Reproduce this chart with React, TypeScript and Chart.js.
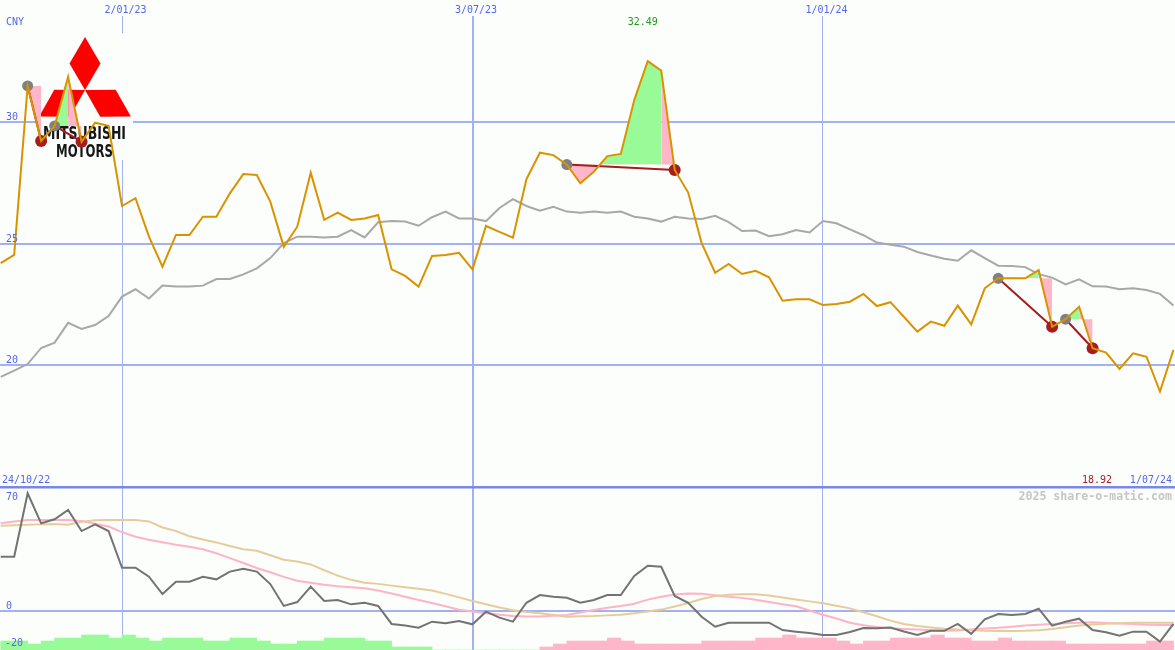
import React, { useEffect, useRef } from 'react';
import { Chart, registerables } from 'chart.js';

Chart.register(...registerables);

// ---------- data ----------
const currency = 'CNY';
const rangeStart = '24/10/22';
const rangeEnd = '1/07/24';
const watermark = '2025 share-o-matic.com';
const dateTickIdx = [9, 35, 61];
const dateTickLabels = ['2/01/23', '3/07/23', '1/01/24'];
const priceTicks = [30, 25, 20];
const oscTicks = [70, 0, -20];

// weekly close (CNY)
const price = [
  24.19, 24.53, 31.47, 29.21, 29.83, 31.85, 29.18, 29.96, 29.83, 26.54,
  26.86, 25.28, 24.05, 25.35, 25.35, 26.10, 26.10, 27.06, 27.85, 27.81,
  26.72, 24.86, 25.69, 27.91, 25.97, 26.27, 25.97, 26.03, 26.17, 23.94,
  23.67, 23.23, 24.49, 24.53, 24.62, 23.94, 25.72, 25.48, 25.24, 27.64,
  28.73, 28.63, 28.24, 27.47, 27.95, 28.59, 28.68, 30.89, 32.49, 32.10,
  28.02, 27.09, 25.01, 23.80, 24.16, 23.75, 23.88, 23.61, 22.65, 22.71,
  22.71, 22.47, 22.52, 22.61, 22.93, 22.43, 22.59, 21.99, 21.38, 21.79,
  21.62, 22.45, 21.68, 23.16, 23.57, 23.57, 23.57, 23.91, 21.58, 21.89,
  22.40, 20.70, 20.52, 19.85, 20.49, 20.35, 18.92, 20.63,
];

// moving average
const movingAvg = [
  19.52, 19.78, 20.05, 20.71, 20.93, 21.74, 21.49, 21.65, 22.02, 22.82,
  23.12, 22.74, 23.27, 23.23, 23.23, 23.27, 23.54, 23.54, 23.73, 23.98,
  24.40, 25.02, 25.28, 25.28, 25.25, 25.28, 25.55, 25.25, 25.87, 25.92,
  25.90, 25.73, 26.08, 26.31, 26.03, 26.03, 25.92, 26.46, 26.82, 26.54,
  26.35, 26.51, 26.31, 26.26, 26.31, 26.26, 26.31, 26.10, 26.03, 25.90,
  26.10, 26.03, 26.01, 26.14, 25.88, 25.51, 25.53, 25.30, 25.38, 25.55,
  25.45, 25.92, 25.83, 25.58, 25.34, 25.04, 24.95, 24.87, 24.65, 24.51,
  24.37, 24.29, 24.72, 24.40, 24.09, 24.08, 24.03, 23.74, 23.60, 23.32,
  23.53, 23.24, 23.23, 23.12, 23.16, 23.09, 22.93, 22.45,
];

// trades: entry, turning point, exit (week indices)
const tradeEntry = [2, 4, 42, 74, 79];
const tradeTurn = [2, 5, 49, 77, 80];
const tradeExit = [3, 6, 50, 78, 81];

// lower panel oscillator
const oscMain = [
  31.0, 31.0, 67.3, 50.1, 52.4, 57.7, 45.7, 49.5, 45.7, 24.7,
  24.7, 19.6, 9.7, 16.7, 16.7, 19.6, 18.1, 22.5, 24.2, 22.5,
  15.4, 2.9, 5.1, 13.9, 5.7, 6.3, 3.8, 4.7, 2.9, -7.4,
  -8.3, -9.5, -6.1, -7.0, -5.7, -7.6, -0.4, -3.8, -6.1, 4.7,
  9.1, 8.2, 7.6, 4.7, 6.3, 9.1, 9.1, 20.0, 25.9, 25.3,
  8.6, 4.7, -3.3, -9.0, -6.7, -6.7, -6.7, -6.7, -10.9, -11.8,
  -12.6, -13.7, -13.7, -12.0, -9.7, -9.9, -9.5, -11.7, -13.7, -11.3,
  -11.3, -7.4, -13.1, -4.7, -1.7, -2.3, -1.7, 1.3, -8.4, -6.1,
  -4.4, -10.9, -12.2, -14.1, -11.8, -11.8, -17.5, -7.4,
];
const oscFast = [
  50.2, 51.1, 52.0, 52.0, 52.0, 52.0, 51.4, 49.9, 48.3, 45.1,
  42.4, 40.7, 39.3, 37.8, 36.7, 35.3, 33.0, 30.2, 27.4, 24.6,
  22.1, 19.5, 17.3, 16.1, 15.0, 14.1, 13.6, 13.0, 11.7, 10.0,
  8.1, 6.3, 4.6, 2.7, 0.7, -0.3, -1.3, -2.2, -2.9, -3.1,
  -3.1, -2.7, -2.3, -0.9, 0.6, 1.8, 2.9, 4.2, 6.5, 8.1,
  9.4, 10.0, 9.8, 9.0, 8.1, 7.5, 6.4, 5.1, 3.8, 2.7,
  0.3, -2.1, -4.3, -6.7, -8.1, -9.1, -9.9, -10.3, -10.6, -11.0,
  -11.3, -11.1, -10.5, -10.0, -9.6, -9.0, -8.3, -7.8, -7.4, -7.0,
  -6.7, -6.5, -6.8, -7.1, -7.4, -7.8, -8.0, -8.0,
];
const oscSlow = [
  48.7, 49.0, 49.3, 49.5, 49.7, 49.3, 51.0, 51.9, 52.0, 52.0,
  52.0, 51.2, 47.7, 45.7, 42.7, 40.9, 39.2, 37.1, 35.3, 34.4,
  31.9, 29.3, 28.3, 26.6, 23.3, 20.2, 17.8, 16.2, 15.5, 14.5,
  13.6, 12.7, 11.7, 9.8, 7.8, 5.7, 3.9, 2.0, 0.4, -0.6,
  -1.3, -2.3, -3.3, -3.0, -2.9, -2.5, -2.1, -1.3, -0.3, 0.8,
  2.6, 4.6, 6.9, 8.5, 9.3, 9.6, 9.6, 8.9, 7.7, 6.6,
  5.5, 4.4, 3.0, 1.5, -0.7, -3.0, -5.5, -7.4, -8.6, -9.4,
  -10.1, -10.6, -11.0, -11.3, -11.4, -11.4, -11.3, -11.0, -10.3, -9.3,
  -8.3, -7.7, -7.3, -7.0, -6.7, -6.7, -6.7, -6.7,
];
// histogram between weeks (positive = green, negative = pink)
const histogram = [
  3, 3, 2, 3, 4, 4, 5, 5, 4, 5, 4, 3, 4, 4, 4, 3, 3, 4, 4, 3,
  2, 2, 3, 3, 4, 4, 4, 3, 3, 1, 1, 1,
  0, 0, 0, 0, 0, 0, 0, 0,
  -1, -2, -3, -3, -3, -4, -3, -2, -2, -2, -2, -2, -3, -3, -3, -3, -4, -4, -5, -4,
  -4, -4, -3, -2, -3, -3, -4, -4, -4, -5, -4, -4, -3, -3, -4, -3, -3, -3, -3, -2,
  -2, -2, -2, -2, -2, -3, -3,
];

// ---------- styles ----------
const BG = '#fbfefb';
const GRID = '#a3b1f2';
const SEP = '#7888e6';
const TEXT_BLUE = '#5566ee';
const ORANGE = '#da9300';
const MA_GRAY = '#a8a8a8';
const PINK = '#ffb6c8';
const GREEN = '#98fb98';
const DARK_RED = '#a51d1d';
const MONO = '"DejaVu Sans Mono", monospace';

const W = 1175;
const H = 650;
const PX_PER_WEEK = 13.48;
const X_MIN = -0.7 / PX_PER_WEEK;
const X_MAX = X_MIN + W / PX_PER_WEEK;
const TOP_MAX = 35;
const TOP_PX = 24.35;
const TOP_MIN = TOP_MAX - H / TOP_PX;
const OSC_PX = 1.75;
const OSC_ZERO_Y = 611;
const OSC_MAX = OSC_ZERO_Y / OSC_PX;
const OSC_MIN = -(H - OSC_ZERO_Y) / OSC_PX;

const pts = (arr: number[]) => arr.map((y, i) => ({ x: i, y }));
const seg = (a: number, b: number) => {
  const out: { x: number; y: number }[] = [];
  for (let i = a; i <= b; i++) out.push({ x: i, y: price[i] });
  return out;
};

const overlayPlugin = {
  id: 'overlay',
  beforeDatasetsDraw(chart: any) {
    const ctx = chart.ctx;
    ctx.save();
    ctx.fillStyle = BG;
    ctx.fillRect(0, 0, W, 16);
    // logo
    ctx.fillRect(38, 33, 95, 127);
    ctx.fillStyle = '#ff0000';
    const polys = [
      [[85, 37], [100.5, 63.5], [85, 90], [69.5, 63.5]],
      [[85, 90], [54.3, 89.8], [39.1, 116.5], [69.8, 116.7]],
      [[85, 90], [115.7, 89.8], [130.9, 116.5], [100.2, 116.7]],
    ];
    polys.forEach((p) => {
      ctx.beginPath();
      ctx.moveTo(p[0][0], p[0][1]);
      for (let i = 1; i < p.length; i++) ctx.lineTo(p[i][0], p[i][1]);
      ctx.closePath();
      ctx.fill();
    });
    ctx.fillStyle = '#161616';
    ctx.font = 'bold 17px "DejaVu Sans Condensed", "DejaVu Sans", sans-serif';
    ctx.textAlign = 'left';
    ctx.textBaseline = 'alphabetic';
    ctx.fillText('MITSUBISHI', 43, 139, 83);
    ctx.fillText('MOTORS', 56, 156.5, 57);
    ctx.restore();
  },
  afterDraw(chart: any) {
    const ctx = chart.ctx;
    const xs = chart.scales.x;
    const ys = chart.scales.y;
    const yb = chart.scales.yb;
    ctx.save();
    ctx.textBaseline = 'alphabetic';
    ctx.font = '10px ' + MONO;
    ctx.fillStyle = TEXT_BLUE;
    ctx.textAlign = 'left';
    ctx.fillText(currency, 6, 25);
    priceTicks.forEach((v) => ctx.fillText(String(v), 6, ys.getPixelForValue(v) - 2));
    oscTicks.forEach((v) => {
      const p = yb.getPixelForValue(v);
      let base = p - 2;
      if (v === oscTicks[0]) base = p + 11.5;
      if (v === oscTicks[2]) base = p;
      ctx.fillText(String(v), v < 0 ? 5 : 6, base);
    });
    ctx.fillText(rangeStart, 2, 483);
    ctx.textAlign = 'center';
    dateTickIdx.forEach((t, i) => ctx.fillText(dateTickLabels[i], xs.getPixelForValue(t) + 3.5, 13));
    ctx.textAlign = 'right';
    ctx.fillText(rangeEnd, 1172, 483);
    const minV = Math.min(...price);
    ctx.fillStyle = DARK_RED;
    ctx.fillText(minV.toFixed(2), 1112, 483);
    const maxV = Math.max(...price);
    const maxI = price.indexOf(maxV);
    ctx.fillStyle = '#229a22';
    ctx.textAlign = 'center';
    ctx.fillText(maxV.toFixed(2), xs.getPixelForValue(maxI) - 5, 25);
    ctx.font = 'bold 11.6px ' + MONO;
    ctx.fillStyle = '#c6c6c6';
    ctx.textAlign = 'right';
    ctx.fillText(watermark, 1172, 500);
    ctx.restore();
  },
};

export default function App() {
  const ref = useRef<HTMLCanvasElement | null>(null);

  useEffect(() => {
    document.body.style.margin = '0';
    const canvas = ref.current;
    if (!canvas) return;

    const datasets: any[] = [];
    // price line
    datasets.push({
      type: 'line', data: pts(price), yAxisID: 'y', borderColor: ORANGE, borderWidth: 2,
      pointRadius: 0, tension: 0, fill: false, order: 0,
    });
    // trade markers
    const markers: any[] = [];
    const mColors: string[] = [];
    const mRadius: number[] = [];
    tradeEntry.forEach((e, k) => {
      markers.push({ x: e, y: price[e] }); mColors.push('#808080'); mRadius.push(5.5);
      const x = tradeExit[k];
      markers.push({ x, y: price[x] }); mColors.push(DARK_RED); mRadius.push(6);
    });
    datasets.push({
      type: 'line', data: markers, yAxisID: 'y', showLine: false, pointRadius: mRadius,
      pointBackgroundColor: mColors, pointBorderWidth: 0, pointBorderColor: mColors, order: 1,
    });
    // trade connecting lines
    const tl: any[] = [];
    tradeEntry.forEach((e, k) => {
      const x = tradeExit[k];
      tl.push({ x: e, y: price[e] }, { x, y: price[x] }, { x: x + 0.5, y: null });
    });
    datasets.push({
      type: 'line', data: tl, yAxisID: 'y', borderColor: DARK_RED, borderWidth: 2,
      pointRadius: 0, spanGaps: false, tension: 0, order: 2,
    });
    // trade fills
    tradeEntry.forEach((e, k) => {
      const level = price[e];
      const t = tradeTurn[k];
      const x = tradeExit[k];
      if (t > e) {
        datasets.push({
          type: 'line', data: seg(e, t), yAxisID: 'y', borderWidth: 0, pointRadius: 0,
          fill: { target: { value: level }, above: GREEN, below: PINK }, order: 3,
        });
      }
      datasets.push({
        type: 'line', data: seg(t, x), yAxisID: 'y', borderWidth: 0, pointRadius: 0,
        fill: { target: { value: level }, above: PINK, below: PINK }, order: 3,
      });
    });
    // moving average
    datasets.push({
      type: 'line', data: pts(movingAvg), yAxisID: 'y', borderColor: MA_GRAY, borderWidth: 2,
      pointRadius: 0, tension: 0, order: 4,
    });
    // oscillator
    datasets.push({
      type: 'line', data: pts(oscMain), yAxisID: 'yb', borderColor: '#737373', borderWidth: 2,
      pointRadius: 0, tension: 0, order: 5,
    });
    datasets.push({
      type: 'line', data: pts(oscSlow), yAxisID: 'yb', borderColor: '#e6cc9c', borderWidth: 2,
      pointRadius: 0, tension: 0, order: 6,
    });
    datasets.push({
      type: 'line', data: pts(oscFast), yAxisID: 'yb', borderColor: '#ffb3c6', borderWidth: 2,
      pointRadius: 0, tension: 0, order: 7,
    });
    datasets.push({
      type: 'bar', data: histogram.map((v, k) => ({ x: k + 0.5, y: Math.abs(v) })), yAxisID: 'yh',
      backgroundColor: histogram.map((v) => (v >= 0 ? GREEN : PINK)), borderWidth: 0,
      barPercentage: 1, categoryPercentage: 1, order: 8,
    });

    const chart = new Chart(canvas, {
      type: 'line',
      data: { datasets },
      plugins: [overlayPlugin],
      options: {
        animation: false,
        responsive: false,
        devicePixelRatio: 1,
        events: [],
        layout: { padding: 0, autoPadding: false },
        plugins: {
          legend: { display: false },
          tooltip: { enabled: false },
          title: { display: false },
        },
        scales: {
          x: {
            type: 'linear', min: X_MIN, max: X_MAX, offset: false,
            afterBuildTicks: (s: any) => { s.ticks = dateTickIdx.map((v) => ({ value: v })); },
            afterFit: (s: any) => { s.height = 0; },
            ticks: { display: false },
            grid: {
              offset: false,
              color: GRID, drawTicks: false,
              lineWidth: (c: any) => (c.tick && c.tick.value === dateTickIdx[1] ? 2 : 1),
            },
            border: { display: false },
          },
          y: {
            type: 'linear', position: 'left', min: TOP_MIN, max: TOP_MAX,
            afterBuildTicks: (s: any) => { s.ticks = [15, ...priceTicks].map((v) => ({ value: v })); },
            afterFit: (s: any) => { s.width = 0; },
            ticks: { display: false },
            grid: {
              drawTicks: false,
              color: (c: any) => (c.tick && c.tick.value === 15 ? SEP : GRID),
              lineWidth: (c: any) => (c.tick && c.tick.value === 15 ? 2.5 : 2),
            },
            border: { display: false },
          },
          yb: {
            type: 'linear', position: 'left', min: OSC_MIN, max: OSC_MAX,
            afterBuildTicks: (s: any) => { s.ticks = [{ value: 0 }]; },
            afterFit: (s: any) => { s.width = 0; },
            ticks: { display: false },
            grid: { drawTicks: false, color: GRID, lineWidth: 2 },
            border: { display: false },
          },
          yh: { type: 'linear', display: false, min: 0, max: H / 3 },
        },
      } as any,
    } as any);

    return () => chart.destroy();
  }, []);

  return (
    <div style={{ width: W, height: H, background: BG, position: 'relative' }}>
      <canvas ref={ref} width={W} height={H} style={{ display: 'block', width: W, height: H }} />
    </div>
  );
}
